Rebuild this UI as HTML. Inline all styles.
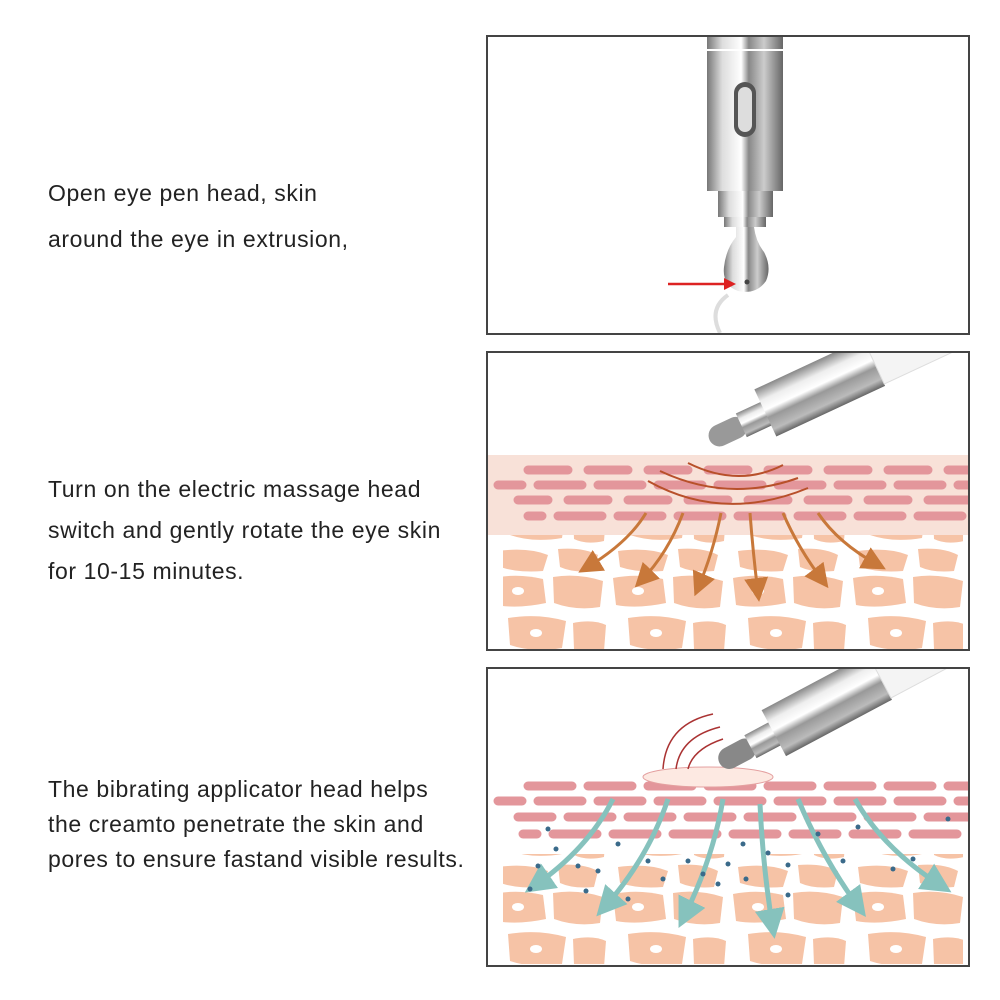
<!DOCTYPE html>
<html><head><meta charset="utf-8"><style>
html,body{margin:0;padding:0;background:#fff;width:1000px;height:1000px;overflow:hidden}
.t{position:absolute;left:48px;font-family:"Liberation Sans",sans-serif;font-size:23px;letter-spacing:0.6px;color:#222;white-space:nowrap}
.box{position:absolute;left:486px;width:480px;height:296px;border:2px solid #444;background:#fff;overflow:hidden}
</style></head><body>
<div class="t" style="top:180px">Open eye pen head, skin</div>
<div class="t" style="top:226px">around the eye in extrusion,</div>
<div class="t" style="top:476px">Turn on the electric massage head</div>
<div class="t" style="top:517px">switch and gently rotate the eye skin</div>
<div class="t" style="top:558px">for 10-15 minutes.</div>
<div class="t" style="top:776px">The bibrating applicator head helps</div>
<div class="t" style="top:811px">the creamto penetrate the skin and</div>
<div class="t" style="top:846px">pores to ensure fastand visible results.</div>

<svg width="0" height="0" style="position:absolute">
<defs>
<linearGradient id="metal" x1="0" x2="1" y1="0" y2="0">
<stop offset="0" stop-color="#777"/><stop offset=".2" stop-color="#ddd"/><stop offset=".45" stop-color="#fff"/><stop offset=".55" stop-color="#888"/><stop offset=".75" stop-color="#ccc"/><stop offset="1" stop-color="#666"/></linearGradient>
<linearGradient id="metalv" x1="0" x2="0" y1="0" y2="1">
<stop offset="0" stop-color="#888"/><stop offset=".25" stop-color="#eee"/><stop offset=".45" stop-color="#fff"/><stop offset=".6" stop-color="#999"/><stop offset=".85" stop-color="#bbb"/><stop offset="1" stop-color="#666"/></linearGradient>
<pattern id="cells" width="120" height="110" patternUnits="userSpaceOnUse">
<path d="M5 5 Q30 0 55 6 L58 30 Q30 36 8 32Z" fill="#f6c3a6"/><ellipse cx="30" cy="18" rx="6" ry="4" fill="#fff"/>
<path d="M65 4 Q90 0 115 8 L112 34 Q88 38 66 30Z" fill="#f6c3a6"/>
<path d="M20 45 Q50 40 78 48 L74 75 Q45 80 22 72Z" fill="#f6c3a6"/><ellipse cx="48" cy="60" rx="6" ry="4" fill="#fff"/>
<path d="M85 50 Q105 46 118 52 L116 78 Q98 82 86 76Z" fill="#f6c3a6"/>
<path d="M10 88 Q40 84 60 92 L55 108 Q30 110 12 104Z" fill="#f6c3a6"/><path d="M70 86 Q95 84 110 92 L106 108 Q85 110 72 104Z" fill="#f6c3a6"/>
</pattern>
<marker id="ao" markerWidth="8" markerHeight="8" refX="5" refY="4" orient="auto"><path d="M0 0L8 4L0 8Z" fill="#c8783a"/></marker>
<marker id="at" markerWidth="6" markerHeight="6" refX="4" refY="3" orient="auto"><path d="M0 0L6 3L0 6Z" fill="#86c2bd"/></marker>
</defs></svg>

<div class="box" style="top:35px">
<svg width="480" height="296">
<rect x="219" y="0" width="76" height="12" fill="url(#metal)"/>
<rect x="219" y="14" width="76" height="140" fill="url(#metal)"/>
<rect x="246" y="45" width="22" height="55" rx="11" fill="#555"/>
<rect x="250" y="50" width="14" height="45" rx="7" fill="#ddd"/>
<rect x="230" y="154" width="55" height="26" fill="url(#metal)"/>
<rect x="236" y="180" width="42" height="10" fill="url(#metal)"/>
<path d="M248 190 L266 190 Q268 205 276 215 Q284 230 278 244 Q268 258 250 254 Q234 248 236 230 Q238 212 248 200Z" fill="url(#metal)"/>
<line x1="180" y1="247" x2="240" y2="247" stroke="#d22" stroke-width="2.5"/>
<path d="M236 241 L248 247 L236 253Z" fill="#d22"/>
<circle cx="259" cy="245" r="2.5" fill="#444"/>
<path d="M240 258 Q220 272 232 296" stroke="#ddd" stroke-width="4" fill="none"/>
</svg></div>

<div class="box" style="top:351px">
<svg width="480" height="296">
<rect x="0" y="102" width="480" height="80" fill="#f8e1d8"/>
<g stroke="#e3969b" stroke-width="9" stroke-linecap="round">
<line x1="40" y1="117" x2="480" y2="117" stroke-dasharray="40 20"/>
<line x1="10" y1="132" x2="480" y2="132" stroke-dasharray="44 16" stroke-dashoffset="20"/>
<line x1="30" y1="147" x2="480" y2="147" stroke-dasharray="40 20" stroke-dashoffset="10"/>
<line x1="40" y1="163" x2="480" y2="163" stroke-dasharray="44 16" stroke-dashoffset="30"/>
</g>
<rect x="15" y="182" width="460" height="115" fill="url(#cells)"/>
<path d="M200 110 Q250 135 295 112" stroke="#b8502a" stroke-width="2" fill="none"/>
<path d="M172 118 Q240 150 310 125" stroke="#b8502a" stroke-width="2" fill="none"/>
<path d="M160 128 Q235 170 320 135" stroke="#b8502a" stroke-width="2" fill="none"/>
<g stroke="#c8783a" stroke-width="3" fill="none" marker-end="url(#ao)">
<path d="M158 160 Q140 190 98 215"/><path d="M195 160 Q180 200 153 228"/><path d="M233 160 Q225 200 210 235"/><path d="M262 160 Q265 200 270 240"/><path d="M295 160 Q310 195 335 228"/><path d="M330 160 Q350 190 390 212"/>
</g>
<g transform="translate(222,88) rotate(-25)">
<rect x="0" y="-12" width="40" height="22" rx="11" fill="#999"/>
<rect x="35" y="-14" width="30" height="26" fill="url(#metalv)"/>
<rect x="62" y="-28" width="120" height="52" fill="url(#metalv)"/>
<rect x="182" y="-26" width="120" height="48" fill="#f4f4f4" stroke="#ddd"/>
</g>
</svg></div>

<div class="box" style="top:667px">
<svg width="480" height="296">
<g stroke="#e3969b" stroke-width="9" stroke-linecap="round">
<line x1="40" y1="117" x2="480" y2="117" stroke-dasharray="44 16"/>
<line x1="10" y1="132" x2="480" y2="132" stroke-dasharray="44 16" stroke-dashoffset="20"/>
<line x1="30" y1="148" x2="480" y2="148" stroke-dasharray="44 16" stroke-dashoffset="10"/>
<line x1="35" y1="165" x2="480" y2="165" stroke-dasharray="44 16" stroke-dashoffset="30"/>
</g>
<rect x="15" y="185" width="460" height="110" fill="url(#cells)"/>
<ellipse cx="220" cy="108" rx="65" ry="10" fill="#fde9e2" stroke="#e4a0a0"/>
<path d="M175 100 Q178 55 225 45" stroke="#a33" stroke-width="1.5" fill="none"/>
<path d="M188 100 Q192 68 232 58" stroke="#a33" stroke-width="1.5" fill="none"/>
<path d="M200 100 Q205 80 235 70" stroke="#a33" stroke-width="1.5" fill="none"/>
<g stroke="#86c2bd" stroke-width="5" fill="none" marker-end="url(#at)">
<path d="M125 130 Q100 180 45 218"/><path d="M180 130 Q160 190 115 240"/><path d="M235 130 Q225 190 195 250"/><path d="M272 135 Q275 200 285 260"/><path d="M310 130 Q335 190 372 240"/><path d="M367 130 Q395 180 455 218"/>
</g>
<g fill="#3a6a8a"><circle cx="60" cy="160" r="2.5"/><circle cx="68" cy="180" r="2.5"/><circle cx="50" cy="197" r="2.5"/><circle cx="90" cy="197" r="2.5"/><circle cx="110" cy="202" r="2.5"/><circle cx="130" cy="175" r="2.5"/><circle cx="160" cy="192" r="2.5"/><circle cx="175" cy="210" r="2.5"/><circle cx="200" cy="192" r="2.5"/><circle cx="215" cy="205" r="2.5"/><circle cx="240" cy="195" r="2.5"/><circle cx="230" cy="215" r="2.5"/><circle cx="255" cy="175" r="2.5"/><circle cx="258" cy="210" r="2.5"/><circle cx="280" cy="184" r="2.5"/><circle cx="300" cy="226" r="2.5"/><circle cx="330" cy="165" r="2.5"/><circle cx="300" cy="196" r="2.5"/><circle cx="355" cy="192" r="2.5"/><circle cx="370" cy="158" r="2.5"/><circle cx="405" cy="200" r="2.5"/><circle cx="425" cy="190" r="2.5"/><circle cx="460" cy="150" r="2.5"/><circle cx="42" cy="220" r="2.5"/><circle cx="98" cy="222" r="2.5"/><circle cx="140" cy="230" r="2.5"/></g>
<g transform="translate(232,95) rotate(-28)">
<rect x="0" y="-12" width="40" height="22" rx="11" fill="#888"/>
<rect x="35" y="-14" width="30" height="26" fill="url(#metalv)"/>
<rect x="62" y="-28" width="120" height="52" fill="url(#metalv)"/>
<rect x="182" y="-26" width="130" height="48" fill="#f4f4f4" stroke="#ddd"/>
</g>
</svg></div>
</body></html>
